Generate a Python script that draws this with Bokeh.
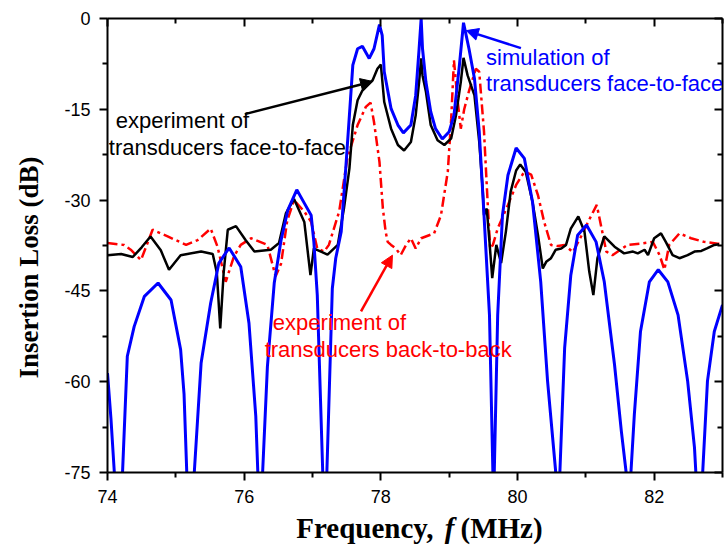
import math
from bokeh.plotting import figure
from bokeh.layouts import column, row
from bokeh.models import (Range1d, LinearAxis, FixedTicker, Label, Arrow, NormalHead,
                          CustomJSTickFormatter)
from bokeh.embed import file_html
from bokeh.resources import INLINE

# ---------------- data ----------------
exp_f = [74.0, 74.2, 74.37, 74.5, 74.63, 74.78, 74.9, 75.07, 75.37, 75.54, 75.6, 75.65, 75.7,
         75.76, 75.88, 76.02, 76.15, 76.39, 76.51, 76.61, 76.73, 76.88, 76.97, 77.02, 77.1,
         77.22, 77.37, 77.46, 77.54, 77.59, 77.66, 77.73, 77.88, 77.95, 78.0, 78.05, 78.15,
         78.25, 78.34, 78.44, 78.51, 78.56, 78.59, 78.61, 78.66, 78.73, 78.83, 78.93, 79.03,
         79.1, 79.17, 79.21, 79.27, 79.37, 79.44, 79.49, 79.51, 79.55, 79.59, 79.63, 79.69,
         79.76, 79.83, 79.9, 79.98, 80.04, 80.12, 80.22, 80.3, 80.37, 80.42, 80.49, 80.56,
         80.64, 80.71, 80.78, 80.89, 80.98, 81.05, 81.11, 81.17, 81.27, 81.42, 81.56, 81.69,
         81.76, 81.86, 81.91, 82.0, 82.1, 82.17, 82.27, 82.37, 82.49, 82.59, 82.69, 82.78,
         82.88, 82.95]
exp_db = [-39.1, -38.9, -39.4, -37.8, -36.0, -38.3, -41.5, -39.1, -38.5, -38.9, -42.0, -51.2, -42.0,
          -34.9, -34.3, -36.6, -38.5, -38.2, -37.1, -32.2, -29.8, -33.6, -42.4, -38.0, -38.4,
          -39.0, -37.4, -31.4, -24.8, -17.6, -13.5, -11.9, -10.2, -8.3, -7.6, -13.8, -18.2,
          -20.9, -21.8, -20.4, -16.0, -10.5, -6.6, -9.4, -12.1, -17.6, -20.1, -20.9, -19.8,
          -16.0, -10.5, -6.5, -9.4, -12.7, -20.4, -28.1, -32.5, -31.4, -36.9, -42.9, -37.4,
          -40.4, -35.2, -28.6, -25.1, -24.1, -25.3, -30.3, -35.8, -41.3, -40.2, -39.6, -38.2,
          -38.0, -37.4, -34.7, -32.7, -35.2, -41.8, -45.7, -39.6, -36.0, -37.7, -38.8, -38.5,
          -38.8, -38.2, -39.1, -36.3, -35.5, -36.9, -39.1, -39.6, -39.1, -38.5, -38.4, -37.95,
          -37.4, -37.3]

sim_f = [74.0, 74.05, 74.1, 74.16, 74.22, 74.29, 74.39, 74.54, 74.74, 74.93, 75.07, 75.12, 75.16,
         75.21, 75.27, 75.37, 75.51, 75.63, 75.78, 75.95, 76.07, 76.17, 76.2, 76.23, 76.27,
         76.34, 76.44, 76.54, 76.64, 76.77, 76.88, 76.98, 77.02, 77.07, 77.15, 77.18, 77.21,
         77.29, 77.34, 77.42, 77.49, 77.54, 77.59, 77.66, 77.73, 77.83, 77.9, 77.98, 78.02,
         78.05, 78.15, 78.25, 78.33, 78.44, 78.51, 78.56, 78.59, 78.61, 78.66, 78.73, 78.8,
         78.9, 79.0, 79.07, 79.15, 79.21, 79.29, 79.37, 79.44, 79.51, 79.59, 79.64, 79.65,
         79.66, 79.71, 79.78, 79.86, 79.98, 80.1, 80.22, 80.34, 80.44, 80.56, 80.59, 80.62,
         80.69, 80.78, 80.88, 81.01, 81.15, 81.27, 81.42, 81.52, 81.59, 81.62, 81.66, 81.71,
         81.8, 81.93, 82.06, 82.2, 82.35, 82.49, 82.59, 82.61, 82.66, 82.71, 82.78, 82.88, 83.0]
sim_db = [-58.6, -66.0, -75.0, -100.0, -75.0, -55.8, -50.9, -45.9, -43.7, -46.5, -54.7, -62.0, -75.0,
          -100.0, -75.0, -56.9, -47.0, -40.4, -37.9, -41.0, -50.3, -65.7, -75.0, -100.0, -75.0,
          -57.5, -43.7, -36.6, -31.6, -28.3, -30.5, -32.5, -36.9, -45.7, -75.0, -100.0, -75.0,
          -44.6, -39.6, -35.2, -24.2, -16.0, -7.7, -5.0, -4.6, -6.6, -5.0, -1.0, -2.8,
          -8.8, -14.9, -17.6, -18.9, -17.6, -12.7, -5.0, 0.0, -5.0, -10.5, -15.4, -18.2,
          -19.9, -18.7, -16.0, -7.7, -0.7, -5.0, -9.9, -18.7, -32.5, -49.0, -75.0, -100.0,
          -75.0, -49.0, -32.5, -25.9, -21.4, -23.1, -30.3, -43.5, -59.9, -75.0, -100.0, -75.0,
          -54.4, -42.4, -35.8, -34.1, -36.9, -43.5, -57.2, -68.2, -75.0, -100.0, -75.0, -65.4,
          -51.7, -43.5, -41.5, -43.5, -49.0, -59.9, -70.9, -75.0, -100.0, -75.0, -59.9, -51.7, -47.3]

b2b_f = [74.0, 74.24, 74.34, 74.49, 74.66, 74.88, 75.15, 75.32, 75.51, 75.61, 75.73, 75.85, 75.95,
         76.1, 76.34, 76.46, 76.54, 76.63, 76.73, 76.88, 76.98, 77.07, 77.17, 77.24, 77.39,
         77.51, 77.66, 77.78, 77.85, 77.9, 77.98, 78.03, 78.07, 78.1, 78.15, 78.22, 78.29,
         78.37, 78.44, 78.51, 78.59, 78.78, 78.88, 78.98, 79.03, 79.07, 79.12, 79.17, 79.22,
         79.29, 79.39, 79.44, 79.51, 79.56, 79.6, 79.64, 79.71, 79.86, 79.98, 80.1, 80.2,
         80.3, 80.39, 80.49, 80.59, 80.69, 80.81, 80.94, 81.06, 81.16, 81.22, 81.3, 81.39,
         81.61, 81.8, 81.98, 82.08, 82.15, 82.22, 82.37, 82.54, 82.73, 82.93, 83.0]
b2b_db = [-37.1, -37.4, -38.2, -39.9, -34.9, -36.0, -37.4, -36.6, -34.7, -37.7, -43.5, -39.3, -37.4,
          -36.3, -37.4, -42.6, -40.5, -33.4, -30.0, -31.9, -33.6, -38.0, -38.5, -37.4, -31.9,
          -23.1, -17.6, -14.6, -13.9, -17.1, -23.7, -31.4, -35.2, -36.9, -37.4, -38.0, -39.1,
          -37.4, -36.3, -38.0, -36.3, -35.5, -32.5, -25.3, -16.5, -6.9, -13.2, -18.2, -15.0,
          -12.0, -8.3, -8.8, -18.7, -29.7, -38.0, -37.4, -34.7, -30.8, -27.5, -25.3, -25.8,
          -29.2, -33.6, -37.4, -37.6, -37.4, -38.6, -35.8, -33.0, -30.8, -34.1, -38.5, -39.1,
          -37.4, -37.2, -36.9, -39.1, -41.5, -37.4, -35.5, -36.3, -36.9, -37.2, -37.2]

x_major = [74, 76, 78, 80, 82]
x_minor = [75, 77, 79, 81, 83]
y_major = [-75, -60, -45, -30, -15, 0]
y_minor = [-67.5, -52.5, -37.5, -22.5, -7.5]

x_title = ["Frequency,", "f", "(MHz)"]
y_title = "Insertion Loss (dB)"
ann_black = ["experiment of", "transducers face-to-face"]
ann_blue = ["simulation of", "transducers face-to-face"]
ann_red = ["experiment of", "transducers back-to-back"]

SANS = "Liberation Sans"
SERIF = "Liberation Serif"
YT_W = 50          # width of the y-title strip
MAIN_H = 505       # height of the main figure
XT_H = 545 - MAIN_H

# ---------------- main figure ----------------
p = figure(width=724 - YT_W, height=MAIN_H, output_backend="svg", toolbar_location=None,
           x_range=Range1d(74, 83), y_range=Range1d(-75, 0),
           min_border_left=107 - YT_W, min_border_right=2, min_border_top=18,
           min_border_bottom=MAIN_H - 474,
           x_axis_location=None, y_axis_location=None)
p.outline_line_color = None
p.xgrid.visible = False
p.ygrid.visible = False
p.background_fill_color = "white"
p.border_fill_color = "white"

plain_fmt = CustomJSTickFormatter(code="return String(tick);")
empty_fmt = CustomJSTickFormatter(code="return '';")

def style_axis(ax, labels=True, inward=False, standoff=8):
    ax.axis_line_width = 2
    ax.axis_line_color = "black"
    ax.major_tick_line_width = 2
    ax.minor_tick_line_width = 2
    ax.major_tick_line_color = "black"
    ax.minor_tick_line_color = "black"
    if inward:
        ax.major_tick_in, ax.major_tick_out = 8, 0
        ax.minor_tick_in, ax.minor_tick_out = 5, 0
    else:
        ax.major_tick_in, ax.major_tick_out = 0, 8
        ax.minor_tick_in, ax.minor_tick_out = 0, 5
    if labels:
        ax.formatter = plain_fmt
        ax.major_label_text_font = SANS
        ax.major_label_text_font_size = "18px"
        ax.major_label_text_color = "black"
        ax.major_label_standoff = standoff
    else:
        ax.formatter = empty_fmt
        ax.major_label_text_font_size = "1px"
        ax.major_label_standoff = 0

xb = LinearAxis(ticker=FixedTicker(ticks=x_major, minor_ticks=x_minor))
style_axis(xb, standoff=9)
p.add_layout(xb, "below")
xt = LinearAxis(ticker=FixedTicker(ticks=x_major, minor_ticks=x_minor))
style_axis(xt, labels=False, inward=True)
p.add_layout(xt, "above")
yl = LinearAxis(ticker=FixedTicker(ticks=y_major, minor_ticks=y_minor))
style_axis(yl, standoff=9)
p.add_layout(yl, "left")
yr = LinearAxis(ticker=FixedTicker(ticks=y_major, minor_ticks=y_minor))
style_axis(yr, labels=False, inward=True)
p.add_layout(yr, "right")

# curves
p.line(b2b_f, b2b_db, line_color="#ff0000", line_width=2.5, line_dash="10 4 3 4")
p.line(exp_f, exp_db, line_color="black", line_width=2.5)
p.line(sim_f, sim_db, line_color="#0000ff", line_width=3)

# arrows
def arrow(x0, y0, x1, y1, color):
    p.add_layout(Arrow(x_start=x0, y_start=y0, x_end=x1, y_end=y1,
                       line_color=color, line_width=2.5,
                       end=NormalHead(size=12, fill_color=color, line_color=color, line_width=1)))

arrow(76.01, -15.8, 77.88, -10.4, "black")
arrow(80.05, -4.9, 79.25, -2.0, "#0000ff")
arrow(77.71, -48.4, 78.17, -39.1, "#ff0000")

def label(fig, x, y, text, color, size="22px", font=SANS, align="left", baseline="middle",
          style="normal", angle=0.0):
    fig.add_layout(Label(x=x, y=y, text=text, text_color=color, text_font_size=size,
                         text_font=font, text_align=align, text_baseline=baseline,
                         text_font_style=style, angle=angle))

label(p, 74.12, -16.8, ann_black[0], "black")
label(p, 74.02, -21.3, ann_black[1], "black")
label(p, 79.54, -6.4, ann_blue[0], "#0000ff")
label(p, 79.54, -10.7, ann_blue[1], "#0000ff")
label(p, 76.42, -50.3, ann_red[0], "#ff0000")
label(p, 76.30, -54.7, ann_red[1], "#ff0000")

# ---------------- title strips (coordinates in pixels, y measured upward) ----------------
def strip(w, h):
    f = figure(width=w, height=h, output_backend="svg", toolbar_location=None,
               x_range=Range1d(0, w), y_range=Range1d(0, h), min_border=0,
               x_axis_location=None, y_axis_location=None)
    f.outline_line_color = None
    f.xgrid.visible = False
    f.ygrid.visible = False
    f.border_fill_color = "white"
    f.background_fill_color = "white"
    return f

ys = strip(YT_W, MAIN_H)
label(ys, 28, MAIN_H - 277, y_title, "black", size="27px", font=SERIF, align="center",
      baseline="middle", style="bold", angle=math.pi / 2)

xs = strip(724, XT_H)
label(xs, 433, XT_H - 22, x_title[0], "black", size="29px", font=SERIF, align="right",
      baseline="middle", style="bold")
label(xs, 449, XT_H - 22, x_title[1], "black", size="29px", font=SERIF, align="center",
      baseline="middle", style="bold italic")
label(xs, 460, XT_H - 22, x_title[2], "black", size="29px", font=SERIF, align="left",
      baseline="middle", style="bold")

layout = column(row(ys, p, spacing=0), xs, spacing=0)

open("out.html", "w").write(file_html(layout, INLINE))
